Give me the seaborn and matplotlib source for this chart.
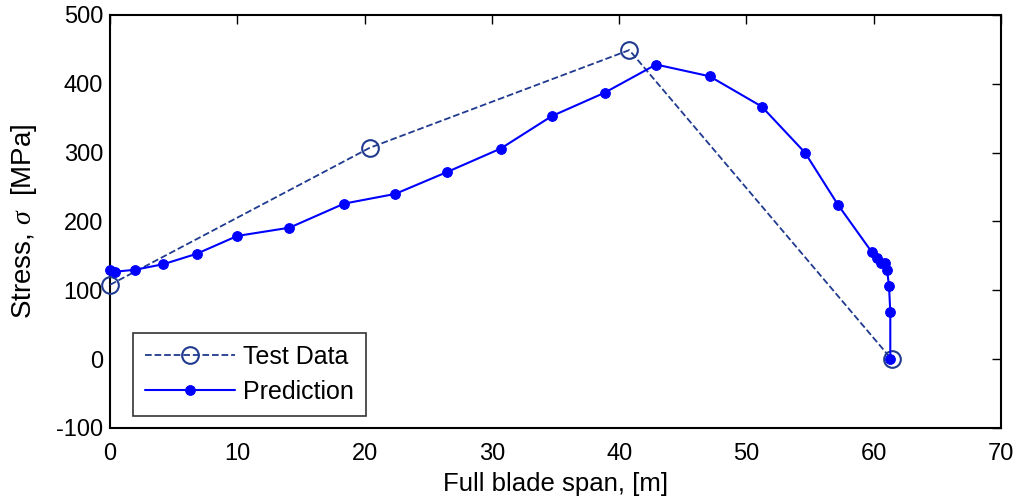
import matplotlib
matplotlib.use("Agg")
import matplotlib.pyplot as plt
import seaborn as sns
import pandas as pd

test_span = [0.0, 20.4, 40.8, 61.4]
test_stress = [108, 307, 449, 0]

pred_span = [0.0, 0.4, 2.0, 4.2, 6.8, 10.0, 14.1, 18.4, 22.4, 26.5, 30.7, 34.7,
             38.85, 42.9, 47.1, 51.2, 54.6, 57.2, 59.87, 60.27, 60.6, 60.9,
             61.05, 61.2, 61.3, 61.3]
pred_stress = [130, 127, 130, 138, 153, 179, 191, 226, 240, 272, 306, 353,
               387, 428, 411, 367, 300, 224, 155, 147, 139, 139, 129, 106, 69, 0]

sns.set_theme(style="white")
plt.rcParams['font.family'] = ['Liberation Sans', 'DejaVu Sans']
plt.rcParams['mathtext.fontset'] = 'custom'
plt.rcParams['mathtext.it'] = 'Liberation Serif:italic'
plt.rcParams['axes.unicode_minus'] = False
plt.rcParams['text.color'] = 'black'
plt.rcParams['axes.labelcolor'] = 'black'

fig = plt.figure(figsize=(10.21, 5.01), dpi=100)
ax = fig.add_axes([0.10774, 0.14571, 0.8727, 0.8244])

df_test = pd.DataFrame({"x": test_span, "y": test_stress})
df_pred = pd.DataFrame({"x": pred_span, "y": pred_stress})

sns.lineplot(data=df_test, x="x", y="y", ax=ax, sort=False, color="#1f3a8f",
             linestyle="--", linewidth=1.3, marker="o", markersize=12,
             markerfacecolor="none", markeredgecolor="#1f3a8f", markeredgewidth=1.5,
             label="Test Data", estimator=None, clip_on=False, zorder=3)
sns.lineplot(data=df_pred, x="x", y="y", ax=ax, sort=False, color="#0000ff",
             linestyle="-", linewidth=1.5, marker="o", markersize=7,
             markerfacecolor="#0000ff", markeredgecolor="#0000ff",
             label="Prediction", estimator=None, clip_on=False, zorder=4)

ax.set_xlim(0, 70)
ax.set_ylim(-100, 500)
ax.set_xticks(range(0, 71, 10))
ax.set_yticks(range(-100, 501, 100))
ax.tick_params(direction="in", length=6.5, width=1.0, top=True, right=True,
               labelsize=17, colors="black", pad=5)
ax.tick_params(axis="x", pad=11)
for s in ax.spines.values():
    s.set_color("black")
    s.set_linewidth(1.5)

ax.set_xlabel("Full blade span, [m]", fontsize=18.5, labelpad=5)
ax.set_ylabel(r"Stress, $\sigma$  [MPa]", fontsize=20, labelpad=12)

leg = ax.legend(loc="lower left", bbox_to_anchor=(0.0258, 0.029), borderaxespad=0,
                fontsize=18, frameon=True, fancybox=False, edgecolor="black",
                handlelength=3.6, borderpad=0.5, labelspacing=0.42,
                handletextpad=0.3)
leg.get_frame().set_linewidth(1.2)

fig.savefig("out.png", dpi=100)
